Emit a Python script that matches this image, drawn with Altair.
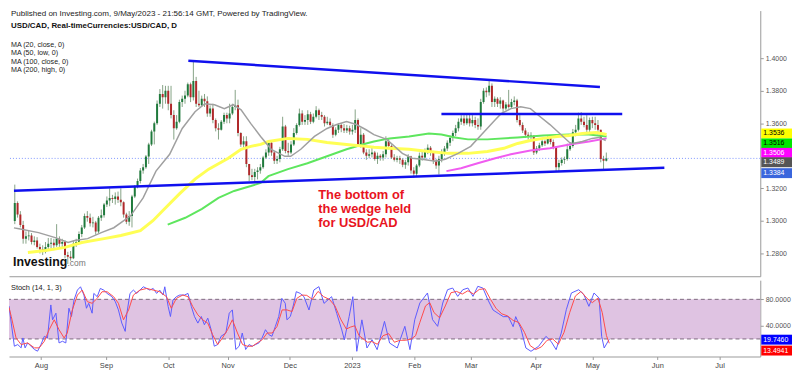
import altair as alt
import pandas as pd

FONT = "Liberation Sans"

# ---------------- x axis: bar index (0 = 15 Jul 2022, 212 = 9 May 2023) ----------------
month_labels = ["Aug", "Sep", "Oct", "Nov", "Dec", "2023", "Feb", "Mar", "Apr", "May", "Jun", "Jul"]
month_bars = [11, 34, 56, 77, 99, 121, 143, 163, 186, 206, 229, 251]

# ---------------- USD/CAD daily candles ----------------
first_open = 1.3000
jul_c = [1.3110, 1.3040, 1.2975, 1.2890, 1.2905, 1.2910, 1.2870, 1.2880, 1.2840, 1.2825, 1.2810]
jul_h = [1.3223, 1.3120, 1.3060, 1.3000, 1.2935, 1.2940, 1.2925, 1.2905, 1.2900, 1.2860, 1.2850]
jul_l = [1.2980, 1.3020, 1.2960, 1.2860, 1.2860, 1.2880, 1.2855, 1.2850, 1.2830, 1.2800, 1.2790]
aug_c = [1.2840, 1.2860, 1.2865, 1.2850, 1.2890, 1.2860, 1.2870, 1.2790, 1.2780, 1.2770, 1.2860, 1.2870,
         1.2920, 1.2960, 1.3030, 1.3020, 1.2985, 1.2990, 1.2935, 1.3020, 1.3035, 1.3100, 1.3125]
aug_h = [1.2870, 1.2895, 1.2895, 1.2890, 1.2980, 1.2905, 1.2890, 1.2880, 1.2810, 1.2815, 1.2880, 1.2890,
         1.2935, 1.2975, 1.3045, 1.3060, 1.3045, 1.3025, 1.3000, 1.3030, 1.3070, 1.3110, 1.3150]
aug_l = [1.2800, 1.2820, 1.2830, 1.2820, 1.2840, 1.2840, 1.2830, 1.2770, 1.2735, 1.2755, 1.2765, 1.2840,
         1.2855, 1.2900, 1.2950, 1.2995, 1.2965, 1.2960, 1.2915, 1.2925, 1.3000, 1.3020, 1.3085]
sep_c = [1.3140, 1.3135, 1.3150, 1.3130, 1.3115, 1.3040, 1.2995, 1.3030, 1.3150, 1.3210, 1.3245, 1.3310,
         1.3330, 1.3395, 1.3470, 1.3550, 1.3600, 1.3720, 1.3780, 1.3760, 1.3800, 1.3720]
sep_h = [1.3200, 1.3160, 1.3175, 1.3180, 1.3200, 1.3120, 1.3050, 1.3060, 1.3160, 1.3220, 1.3260, 1.3325,
         1.3350, 1.3405, 1.3480, 1.3560, 1.3610, 1.3740, 1.3810, 1.3835, 1.3830, 1.3830]
sep_l = [1.3090, 1.3110, 1.3100, 1.3110, 1.3090, 1.3020, 1.2980, 1.2970, 1.2960, 1.3140, 1.3200, 1.3230,
         1.3290, 1.3320, 1.3350, 1.3460, 1.3470, 1.3590, 1.3700, 1.3690, 1.3720, 1.3680]
oct_c = [1.3650, 1.3570, 1.3610, 1.3730, 1.3750, 1.3770, 1.3840, 1.3760, 1.3860, 1.3720, 1.3710, 1.3750,
         1.3735, 1.3660, 1.3690, 1.3620, 1.3570, 1.3560, 1.3610, 1.3650, 1.3630]
oct_h = [1.3830, 1.3680, 1.3650, 1.3745, 1.3770, 1.3800, 1.3850, 1.3850, 1.3977, 1.3885, 1.3800, 1.3770,
         1.3780, 1.3765, 1.3710, 1.3720, 1.3630, 1.3600, 1.3620, 1.3665, 1.3665]
oct_l = [1.3630, 1.3500, 1.3560, 1.3600, 1.3700, 1.3720, 1.3760, 1.3730, 1.3740, 1.3700, 1.3700, 1.3700,
         1.3700, 1.3640, 1.3640, 1.3600, 1.3550, 1.3500, 1.3555, 1.3595, 1.3600]
nov_c = [1.3660, 1.3700, 1.3710, 1.3540, 1.3470, 1.3490, 1.3350, 1.3280, 1.3270, 1.3300, 1.3310, 1.3330,
         1.3390, 1.3420, 1.3480, 1.3420, 1.3370, 1.3380, 1.3440, 1.3580, 1.3430, 1.3420]
nov_h = [1.3720, 1.3720, 1.3805, 1.3745, 1.3545, 1.3520, 1.3520, 1.3350, 1.3320, 1.3320, 1.3330, 1.3350,
         1.3400, 1.3440, 1.3490, 1.3485, 1.3430, 1.3400, 1.3455, 1.3640, 1.3590, 1.3480]
nov_l = [1.3600, 1.3650, 1.3680, 1.3520, 1.3455, 1.3450, 1.3330, 1.3245, 1.3250, 1.3235, 1.3255, 1.3290,
         1.3320, 1.3380, 1.3400, 1.3400, 1.3350, 1.3350, 1.3360, 1.3430, 1.3415, 1.3400]
dec_c = [1.3470, 1.3540, 1.3590, 1.3660, 1.3610, 1.3620, 1.3655, 1.3610, 1.3640, 1.3680, 1.3650, 1.3640,
         1.3600, 1.3610, 1.3590, 1.3530, 1.3560, 1.3590, 1.3570, 1.3555, 1.3570, 1.3550]
dec_h = [1.3490, 1.3570, 1.3600, 1.3690, 1.3680, 1.3650, 1.3680, 1.3670, 1.3660, 1.3705, 1.3690, 1.3670,
         1.3650, 1.3640, 1.3630, 1.3600, 1.3575, 1.3600, 1.3600, 1.3595, 1.3590, 1.3585]
dec_l = [1.3410, 1.3460, 1.3530, 1.3580, 1.3590, 1.3590, 1.3590, 1.3595, 1.3600, 1.3630, 1.3620, 1.3620,
         1.3580, 1.3590, 1.3580, 1.3510, 1.3520, 1.3540, 1.3545, 1.3540, 1.3540, 1.3530]
jan_c = [1.3560, 1.3620, 1.3470, 1.3530, 1.3420, 1.3400, 1.3410, 1.3420, 1.3380, 1.3400, 1.3390, 1.3410,
         1.3490, 1.3460, 1.3390, 1.3375, 1.3385, 1.3375, 1.3345, 1.3360, 1.3395, 1.3310]
jan_h = [1.3590, 1.3685, 1.3630, 1.3570, 1.3540, 1.3440, 1.3440, 1.3450, 1.3430, 1.3420, 1.3410, 1.3430,
         1.3520, 1.3505, 1.3470, 1.3410, 1.3400, 1.3400, 1.3385, 1.3375, 1.3410, 1.3400]
jan_l = [1.3530, 1.3540, 1.3460, 1.3450, 1.3410, 1.3375, 1.3385, 1.3390, 1.3370, 1.3350, 1.3370, 1.3370,
         1.3390, 1.3440, 1.3380, 1.3365, 1.3360, 1.3350, 1.3330, 1.3320, 1.3340, 1.3290]
feb_c = [1.3290, 1.3340, 1.3400, 1.3390, 1.3430, 1.3450, 1.3420, 1.3370, 1.3340, 1.3380, 1.3420, 1.3445,
         1.3480, 1.3510, 1.3540, 1.3570, 1.3610, 1.3630, 1.3600, 1.3630]
feb_h = [1.3330, 1.3350, 1.3420, 1.3430, 1.3445, 1.3470, 1.3460, 1.3430, 1.3380, 1.3400, 1.3440, 1.3460,
         1.3495, 1.3525, 1.3555, 1.3590, 1.3630, 1.3650, 1.3650, 1.3660]
feb_l = [1.3265, 1.3270, 1.3330, 1.3370, 1.3380, 1.3410, 1.3400, 1.3350, 1.3320, 1.3285, 1.3360, 1.3400,
         1.3430, 1.3460, 1.3490, 1.3520, 1.3550, 1.3590, 1.3585, 1.3590]
mar_c = [1.3600, 1.3620, 1.3590, 1.3580, 1.3730, 1.3800, 1.3790, 1.3830, 1.3730, 1.3750, 1.3720, 1.3740,
         1.3690, 1.3715, 1.3700, 1.3730, 1.3740, 1.3620, 1.3590, 1.3555, 1.3530, 1.3520, 1.3525]
mar_h = [1.3660, 1.3650, 1.3640, 1.3630, 1.3750, 1.3815, 1.3820, 1.3862, 1.3845, 1.3765, 1.3760, 1.3760,
         1.3745, 1.3730, 1.3805, 1.3750, 1.3765, 1.3750, 1.3650, 1.3605, 1.3570, 1.3545, 1.3545]
mar_l = [1.3580, 1.3580, 1.3570, 1.3560, 1.3560, 1.3720, 1.3760, 1.3770, 1.3700, 1.3700, 1.3700, 1.3690,
         1.3660, 1.3680, 1.3690, 1.3690, 1.3710, 1.3605, 1.3580, 1.3540, 1.3510, 1.3500, 1.3500]
apr_c = [1.3420, 1.3445, 1.3465, 1.3490, 1.3475, 1.3510, 1.3485, 1.3450, 1.3330, 1.3355, 1.3375, 1.3380,
         1.3440, 1.3460, 1.3545, 1.3560, 1.3630, 1.3610, 1.3590, 1.3560]
apr_h = [1.3520, 1.3460, 1.3480, 1.3505, 1.3500, 1.3525, 1.3520, 1.3500, 1.3460, 1.3375, 1.3390, 1.3395,
         1.3475, 1.3480, 1.3565, 1.3590, 1.3665, 1.3668, 1.3640, 1.3650]
apr_l = [1.3405, 1.3410, 1.3430, 1.3455, 1.3460, 1.3470, 1.3470, 1.3440, 1.3305, 1.3300, 1.3340, 1.3350,
         1.3370, 1.3430, 1.3450, 1.3520, 1.3550, 1.3590, 1.3575, 1.3540]
may_c = [1.3620, 1.3600, 1.3590, 1.3560, 1.3380, 1.3370, 1.3384]
may_h = [1.3635, 1.3640, 1.3640, 1.3620, 1.3560, 1.3400, 1.3420]
may_l = [1.3530, 1.3570, 1.3560, 1.3530, 1.3360, 1.3318, 1.3365]

# ---------------- moving averages (bar index, price) ----------------
ma20_i = [-0.3, 1.5, 8.5, 14.5, 19.1, 21.5, 26.1, 31, 35.5, 41.5, 46, 50.6, 55.5, 60, 64.6, 68.1, 71.6, 75.1,
          78.3, 81.1, 84.6, 88.1, 91.9, 96.8, 98.9, 102.5, 107.4, 111.9, 115.4, 118.9, 122.4, 125.9, 128.7,
          133.3, 138.9, 142.4, 145.9, 150.8, 154.3, 158.9, 163.4, 168.3, 172.2, 174.3, 177.8, 181.3, 184.8,
          188.3, 191.8, 195.3, 198.8, 199.9, 203.4, 206.9, 209.3, 211.8]
ma20_p = [1.2957, 1.2952, 1.2928, 1.2897, 1.2867, 1.2879, 1.2891, 1.2928, 1.2958, 1.3031, 1.3141, 1.3306,
          1.3409, 1.3568, 1.3671, 1.3720, 1.3714, 1.3689, 1.3714, 1.3683, 1.3598, 1.3519, 1.3440, 1.3397,
          1.3397, 1.3440, 1.3519, 1.3568, 1.3592, 1.3610, 1.3592, 1.3560, 1.3530, 1.3501, 1.3415, 1.3385,
          1.3379, 1.3367, 1.3379, 1.3415, 1.3458, 1.3549, 1.3622, 1.3659, 1.3690, 1.3702, 1.3690, 1.3640,
          1.3592, 1.3537, 1.3482, 1.3476, 1.3488, 1.3507, 1.3513, 1.3494]
ma50_i = [4.7, 11, 18, 24, 32, 38, 45, 49.5, 53, 59, 64.6, 69.5, 76.5, 81.1, 84.6, 88.1, 90.9, 97.9, 104.9,
          111.9, 118.9, 125.9, 128.7, 134.3, 141.3, 148.4, 155.4, 162.4, 169.4, 175.3, 180.2, 184.8, 189.3,
          194.3, 198.8, 203.4, 208.3, 212.1]
ma50_p = [1.2806, 1.2818, 1.2837, 1.2867, 1.2891, 1.2910, 1.2940, 1.3001, 1.3062, 1.3166, 1.3257, 1.3318,
          1.3385, 1.3440, 1.3458, 1.3470, 1.3488, 1.3507, 1.3501, 1.3482, 1.3470, 1.3458, 1.3452, 1.3446,
          1.3440, 1.3427, 1.3415, 1.3415, 1.3427, 1.3446, 1.3476, 1.3494, 1.3507, 1.3519, 1.3525, 1.3537,
          1.3543, 1.3531]
ma100_i = [54.8, 61.1, 67.1, 73, 78.6, 84.6, 88.1, 90.9, 97.9, 104.9, 111.9, 118.9, 125.9, 128.7, 134.3,
           141.3, 148.4, 152.9, 157.8, 162.4, 169.4, 180.2, 189.3, 198.8, 205.8, 212.1]
ma100_p = [1.2977, 1.3019, 1.3074, 1.3141, 1.3184, 1.3214, 1.3233, 1.3275, 1.3318, 1.3354, 1.3397, 1.3440,
           1.3476, 1.3488, 1.3507, 1.3519, 1.3537, 1.3531, 1.3513, 1.3501, 1.3501, 1.3513, 1.3525, 1.3531,
           1.3531, 1.3519]
ma200_i = [154.7, 159.9, 165.9, 172.2, 177.8, 184.8, 191.8, 198.8, 205.8, 212.1]
ma200_p = [1.3306, 1.3324, 1.3354, 1.3385, 1.3409, 1.3433, 1.3446, 1.3470, 1.3488, 1.3507]

# ---------------- trend lines drawn on the chart ----------------
wedge_top_i = [62.2, 209.7]
wedge_top_p = [1.3984, 1.3823]
wedge_bottom_i = [-0.3, 232.8]
wedge_bottom_p = [1.3185, 1.3326]
resist_i = [152.9, 217.7]
resist_p = [1.3657, 1.3657]
last_price = 1.3384
price_ticks = [1.28, 1.30, 1.32, 1.36, 1.38, 1.40]
ma_legend = ["MA (20, close, 0)", "MA (50, low, 0)", "MA (100, close, 0)", "MA (200, high, 0)"]

# ---------------- stochastic (14, 1, 3) ----------------
k_i = [-0.3, 0.5, 1.6, 2.8, 4.0, 4.6, 5.4, 6.3, 7.5, 8.7, 9.8, 11, 12.2, 13.3, 14.5, 15.1, 16.3, 17.4, 18.6,
       19.8, 20.9, 21.8, 22.7, 23.9, 25, 26.2, 27.1, 27.9, 29.1, 29.7, 30.9, 32, 33.2, 34.4, 36.1, 37.3, 38.4,
       39.6, 40.8, 41.4, 42.5, 43.7, 44.9, 46, 47.2, 48.4, 49.5, 50.7, 51.9, 53, 54.2, 54.8, 56, 56.8, 57.7,
       58.9, 60.1, 61.8, 63, 64.2, 65.3, 66.5, 67.7, 68.8, 70, 71.2, 72.3, 73.5, 74.7, 76.4, 77.6, 78.7, 79.9,
       81.1, 82.2, 83.4, 84.6, 85.7, 86.9, 88.1, 89.2, 90.4, 91.6, 92.7, 93.9, 95.1, 96.2, 97.4, 98, 99.2,
       100.3, 101.3, 102.7, 104, 105.8, 107.5, 109.3, 111.1, 113.8, 115.6, 117.4, 118.3, 120, 121.3, 122.7,
       124.5, 126.3, 128.1, 129.9, 132.5, 134.3, 137, 139.7, 141.5, 143.2, 145, 147.7, 149.5, 151.3, 153.1,
       154.8, 156.6, 158.4, 160.2, 162, 163.8, 165.5, 167.3, 169.1, 170.9, 172.7, 174.5, 176.3, 178, 178.9,
       180.7, 182.5, 184.3, 187, 189.6, 191.4, 193.2, 195, 196.8, 198.6, 201.2, 203, 204.8, 206.6, 208.4,
       209.3, 210.2, 212]
k_v = [70, 44, 9, 11.5, 6.5, 21.5, 6.5, 14, 9, 4, 1.5, 11.5, 24, 21.5, 71.5, 49, 59, 14, 16.5, 14, 66.5, 54,
       79, 94, 99, 86.5, 66.5, 74, 59, 89, 84, 96.5, 94, 89, 84, 76.5, 64, 44, 31.5, 59, 89, 94, 89, 94, 99,
       96.5, 94, 96.5, 89, 94, 86.5, 99, 69, 54, 79, 84, 86.5, 86.5, 89, 69, 54, 44, 54, 41.5, 51.5, 34, 9,
       11.5, 24, 29, 59, 64, 4, 9, 29, 4, 11.5, 9, 11.5, 14, 21.5, 34, 26.5, 24, 39, 54, 81.5, 74, 49, 54,
       71.5, 91.6, 89, 84, 63.8, 94.1, 99.2, 73.9, 84, 58.8, 33.6, 18.5, 53.8, 84, 1.3, 48.9, 6.3, 18.9, 3.8,
       46.6, 13.8, 6.3, 39.1, 3.8, 49.2, 74.4, 89.6, 49.2, 39.1, 74.4, 94.6, 97.1, 84.5, 94.6, 97.1, 84.5,
       99.7, 97.1, 79, 63.8, 58.8, 53.8, 53.8, 38.6, 53.8, 36.1, 6.3, 1.3, 8.8, 23.9, 16.4, 3.8, 28.9, 64.3,
       89.6, 94.6, 87.1, 69.4, 89.6, 82, 23.9, 6.3, 19.7]
d_i = [-0.3, 0.5, 2.2, 4, 6.3, 8.7, 10.4, 12.2, 13.9, 15.7, 17.4, 19.2, 20.3, 22.1, 23.9, 25.6, 27.4, 29.1,
       30.9, 32.6, 34.4, 36.7, 38.4, 40.2, 42, 43.7, 46, 48.4, 50.7, 53, 55.4, 57.1, 58.9, 61.2, 63, 64.7,
       66.5, 68.2, 70, 71.7, 73.5, 75.2, 77, 78.7, 80.5, 82.3, 84, 85.8, 87.5, 89.3, 91, 92.8, 94.5, 96.3, 98,
       99.8, 101.5, 103.3, 105, 107, 109, 111, 113, 115, 117, 119, 120.5, 122, 123.5, 125, 126.5, 128, 130,
       132, 134, 136, 138, 140, 142, 143.5, 145, 147, 148.5, 150, 152, 154, 156, 158, 160, 162, 164, 166,
       168, 170, 172, 174, 176, 178, 180, 182, 184, 186, 188, 190, 192, 194, 196, 198, 200, 202, 204, 206,
       208, 209.5, 211, 212]
d_v = [68, 54, 21.5, 11.5, 14, 6.5, 6.5, 16.5, 34, 49, 34, 21.5, 29, 64, 86.5, 94, 76.5, 74, 81.5, 91.5,
       91.5, 84, 74, 49, 64, 86.5, 94, 96.5, 94, 91.5, 84, 66.5, 81.5, 86.5, 84, 69, 56.5, 49, 44, 26.5, 11.5,
       21.5, 34, 49, 29, 11.5, 9, 9, 14, 19, 29, 29, 39, 64, 64, 61.5, 81.5, 86.5, 86, 80, 92, 84, 80, 70, 50,
       35, 38, 40, 25, 20, 15, 16, 12, 25, 28, 15, 18, 18, 20, 25, 45, 70, 75, 60, 52, 70, 90, 92, 88, 93, 88,
       95, 96, 80, 66, 58, 55, 48, 45, 30, 10, 4, 8, 18, 20, 12, 30, 60, 85, 92, 82, 75, 82, 60, 25, 13.5]
stoch_ticks = [40, 80]

# ---------------- build tables ----------------
close = jul_c + aug_c + sep_c + oct_c + nov_c + dec_c + jan_c + feb_c + mar_c + apr_c + may_c
high = jul_h + aug_h + sep_h + oct_h + nov_h + dec_h + jan_h + feb_h + mar_h + apr_h + may_h
low = jul_l + aug_l + sep_l + oct_l + nov_l + dec_l + jan_l + feb_l + mar_l + apr_l + may_l
opens = [first_open] + close[:-1]
bars = pd.DataFrame({"i": list(range(len(close))), "o": opens, "h": high, "l": low, "c": close})
bars["dir"] = ["up" if c >= o else "down" for o, c in zip(opens, close)]

W, H_PRICE, H_STOCH = 758, 268, 77
x_scale = alt.Scale(domain=[-0.3, 265.4], nice=False, zero=False)
p_scale = alt.Scale(domain=[1.26599, 1.42924], nice=False, zero=False)
s_scale = alt.Scale(domain=[-6.6, 109], nice=False, zero=False)

x_axis_price = alt.Axis(labels=False, ticks=False, domain=True, domainColor="#9a9a9a", grid=False, title=None)
p_axis = alt.Axis(orient="right", values=price_ticks, format=".4f", labelFontSize=7, labelColor="#555555",
                  tickSize=3, tickColor="#9a9a9a", domainColor="#9a9a9a", grid=False, title=None, labelPadding=2)
label_expr = " : ".join(f"datum.value == {b} ? '{m}'" for m, b in zip(month_labels, month_bars)) + " : ''"
x_axis_stoch = alt.Axis(values=month_bars, labelExpr=label_expr, labelFontSize=7.5, labelColor="#444444",
                        tickSize=3, tickColor="#9a9a9a", domainColor="#9a9a9a", grid=False, title=None,
                        labelPadding=2)
s_axis = alt.Axis(orient="right", values=stoch_ticks, format=".4f", labelFontSize=7, labelColor="#555555",
                  tickSize=3, tickColor="#9a9a9a", domainColor="#9a9a9a", grid=False, title=None, labelPadding=2)


def px(field="i"):
    return alt.X(f"{field}:Q", scale=x_scale, axis=x_axis_price)


def py(field):
    return alt.Y(f"{field}:Q", scale=p_scale, axis=p_axis)


def line_df(xs, ys):
    return pd.DataFrame({"i": xs, "p": ys})


def price_line(xs, ys, color, width):
    return alt.Chart(line_df(xs, ys)).mark_line(color=color, strokeWidth=width, clip=True).encode(
        x=px(), y=py("p"))


def label(text, x, y, size, color="#222222", weight="normal", align="left", baseline="middle", lh=None):
    kw = dict(align=align, baseline=baseline, fontSize=size, fontWeight=weight, color=color, font=FONT)
    if lh is not None:
        kw["lineBreak"] = "\n"
        kw["lineHeight"] = lh
    return alt.Chart(pd.DataFrame({"t": [text]})).mark_text(**kw).encode(
        text="t:N", x=alt.value(x), y=alt.value(y))


def tag(text, y, bg, fg):
    box = alt.Chart(pd.DataFrame({"t": [text]})).mark_rect(color=bg).encode(
        x=alt.value(759), x2=alt.value(790), y=alt.value(y - 5), y2=alt.value(y + 5))
    return [box, label(text, 761, y, 7, fg)]


wicks = alt.Chart(bars).mark_rule(color="#86a386", strokeWidth=1, clip=True).encode(
    x=px(), y=py("l"), y2="h:Q")
bodies = alt.Chart(bars).mark_bar(size=2, clip=True).encode(
    x=px(), y=py("o"), y2="c:Q",
    color=alt.Color("dir:N", scale=alt.Scale(domain=["up", "down"], range=["#1f7a3c", "#b0282a"]), legend=None))
last_line = alt.Chart(pd.DataFrame({"p": [last_price]})).mark_rule(
    color="#7f97ff", strokeDash=[1, 2], strokeWidth=1).encode(y=py("p"))

price_layers = [
    last_line, wicks, bodies,
    price_line(ma100_i, ma100_p, "#5ee65e", 2),
    price_line(ma50_i, ma50_p, "#ffff55", 3),
    price_line(ma200_i, ma200_p, "#f05cf0", 2),
    price_line(ma20_i, ma20_p, "#a0a0a0", 1.5),
    price_line(wedge_top_i, wedge_top_p, "#1010ee", 2.5),
    price_line(wedge_bottom_i, wedge_bottom_p, "#1010ee", 2.5),
    price_line(resist_i, resist_p, "#1010ee", 2.5),
    label("Published on Investing.com, 9/May/2023 - 21:56:14 GMT, Powered by TradingView.", 2, 3, 8.1),
    label("USD/CAD, Real-timeCurrencies:USD/CAD, D", 2, 16, 8, "#111111", "bold"),
    label(ma_legend[0], 2, 35, 7.2),
    label(ma_legend[1], 2, 43.2, 7.2),
    label(ma_legend[2], 2, 51.4, 7.2),
    label(ma_legend[3], 2, 59.6, 7.2),
    label("The bottom of\nthe wedge held\nfor USD/CAD", 312, 180, 13, "#e8141e", "bold", baseline="top", lh=14),
    label("Investing", 4, 254, 12.5, "#111111", "bold"),
    label(".com", 59, 255, 8.5, "#777777"),
]
price_layers += tag("1.3536", 124, "#ffff00", "#000000")
price_layers += tag("1.3516", 134, "#00e600", "#000000")
price_layers += tag("1.3506", 143.5, "#ff00ff", "#ffffff")
price_layers += tag("1.3489", 153, "#555555", "#ffffff")
price_layers += tag("1.3384", 164, "#3a66dd", "#ffffff")

price = alt.layer(*price_layers).properties(width=W, height=H_PRICE)


def sx():
    return alt.X("i:Q", scale=x_scale, axis=x_axis_stoch)


def sy(field):
    return alt.Y(f"{field}:Q", scale=s_scale, axis=s_axis)


band = alt.Chart(pd.DataFrame({"lo": [20], "hi": [80]})).mark_rect(color="#dfc3e2").encode(
    y=sy("lo"), y2="hi:Q")
band_lines = alt.Chart(pd.DataFrame({"v": [20, 80]})).mark_rule(
    color="#7d6a80", strokeDash=[4, 3], strokeWidth=1).encode(y=sy("v"))
k_line = alt.Chart(pd.DataFrame({"i": k_i, "v": k_v})).mark_line(
    color="#5b5bff", strokeWidth=1, clip=True).encode(x=sx(), y=sy("v"))
d_line = alt.Chart(pd.DataFrame({"i": d_i, "v": d_v})).mark_line(
    color="#ff4a4a", strokeWidth=1, clip=True).encode(x=sx(), y=sy("v"))

stoch_layers = [band, band_lines, k_line, d_line, label("Stoch (14, 1, 3)", 2, 8, 7.5)]
stoch_layers += tag("19.7460", 60, "#0000ff", "#ffffff")
stoch_layers += tag("13.4941", 71, "#ff0000", "#ffffff")
stoch = alt.layer(*stoch_layers).properties(width=W, height=H_STOCH)

chart = (
    alt.vconcat(price, stoch, spacing=4)
    .properties(padding={"left": 0, "top": 0, "right": 0, "bottom": 0}, background="white")
    .configure_view(stroke=None)
    .configure_axis(labelFont=FONT)
    .configure_text(font=FONT)
)
chart.save("out.html", embed_options={"renderer": "svg", "actions": False})
